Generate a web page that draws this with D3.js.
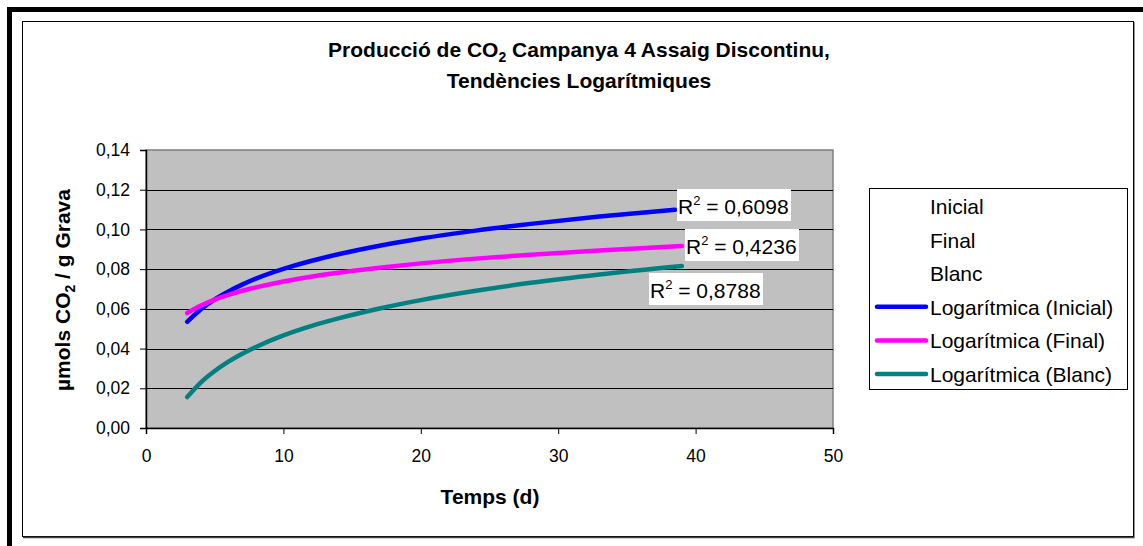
<!DOCTYPE html>
<html>
<head>
<meta charset="utf-8">
<script src="https://cdn.jsdelivr.net/npm/d3@7"></script>
<style>
  body { margin: 0; background: #fff; }
  svg { display: block; font-family: Arial, "Liberation Sans", sans-serif; }
</style>
</head>
<body>
<svg id="root" width="1143" height="546"></svg>
<script>
const svg = d3.select('#root')

// trend values
const daysInicial = [3, 4, 5, 6, 7, 8, 10, 12, 14, 17, 20, 24, 28, 33, 38.5]
const inicial = [0.0535, 0.0598, 0.0648, 0.0688, 0.0722, 0.0752, 0.0801, 0.0841, 0.0875, 0.0918, 0.0954, 0.0994, 0.1028, 0.1065, 0.1099]
const days = [3, 4, 5, 6, 7, 8, 10, 12, 14, 17, 20, 24, 28, 33, 39]
const final = [0.0579, 0.0617, 0.0647, 0.0670, 0.0691, 0.0708, 0.0738, 0.0762, 0.0782, 0.0807, 0.0829, 0.0853, 0.0873, 0.0894, 0.0916]
const blanc = [0.0156, 0.0230, 0.0287, 0.0334, 0.0374, 0.0408, 0.0466, 0.0513, 0.0552, 0.0602, 0.0644, 0.0691, 0.0731, 0.0773, 0.0816]
const r2Labels = ['R² = 0,6098', 'R² = 0,4236', 'R² = 0,8788']
const legendNames = ['Inicial', 'Final', 'Blanc', 'Logarítmica (Inicial)', 'Logarítmica (Final)', 'Logarítmica (Blanc)']
const colors = ['#0000ff', '#ff00ff', '#008080']
const yTicks = [0, 0.02, 0.04, 0.06, 0.08, 0.10, 0.12, 0.14]
const xTicks = [0, 10, 20, 30, 40, 50]

const trends = [
  { x: daysInicial, y: inicial, color: colors[0] },
  { x: days, y: final, color: colors[1] },
  { x: days, y: blanc, color: colors[2] }
]

// outer frame
svg.append('rect').attr('x', 7).attr('y', 7).attr('width', 1143).attr('height', 560)
  .attr('fill', 'none').attr('stroke', '#000').attr('stroke-width', 5)
  .attr('transform', 'translate(2.5,2.5)')
svg.append('rect').attr('x', 22.5).attr('y', 21.5).attr('width', 1111).attr('height', 515)
  .attr('fill', '#fff').attr('stroke', '#000').attr('stroke-width', 1)
svg.append('line').attr('x1', 23).attr('x2', 1135).attr('y1', 537.5).attr('y2', 537.5)
  .attr('stroke', '#444').attr('stroke-width', 1.5)
svg.append('line').attr('x1', 1134.5).attr('x2', 1134.5).attr('y1', 22).attr('y2', 538)
  .attr('stroke', '#999').attr('stroke-width', 1)

const margin = { left: 146, top: 150, right: 833, bottom: 428 }

const xScale = d3.scaleLinear().domain([0, 50]).range([margin.left, margin.right])
const yScale = d3.scaleLinear().domain([0, 0.14]).range([margin.bottom, margin.top])

// plot area
svg.append('rect')
  .attr('x', margin.left).attr('y', margin.top)
  .attr('width', margin.right - margin.left).attr('height', margin.bottom - margin.top)
  .attr('fill', '#c0c0c0').attr('stroke', '#808080').attr('stroke-width', 1.5)

// gridlines
svg.append('g')
  .selectAll('line')
  .data(yTicks.slice(1, -1))
  .enter()
  .append('line')
  .attr('x1', margin.left).attr('x2', margin.right)
  .attr('y1', d => Math.round(yScale(d)) + 0.5)
  .attr('y2', d => Math.round(yScale(d)) + 0.5)
  .attr('stroke', '#000').attr('stroke-width', 1)

// axes
const fmt = d => d3.format('.2f')(d).replace('.', ',')
const yAxis = d3.axisLeft(yScale).tickValues(yTicks).tickFormat(fmt).tickSize(6).tickPadding(10)
const xAxis = d3.axisBottom(xScale).tickValues(xTicks).tickFormat(d3.format('d')).tickSize(6).tickPadding(16)

const gy = svg.append('g').attr('transform', `translate(${margin.left},0)`).call(yAxis)
const gx = svg.append('g').attr('transform', `translate(0,${margin.bottom})`).call(xAxis)
;[gy, gx].forEach(g => {
  g.selectAll('path').attr('stroke', '#000').attr('stroke-width', 1.5)
  g.selectAll('line').attr('stroke', '#000')
  g.selectAll('text').attr('font-size', 17.5).attr('fill', '#000')
    .attr('font-family', 'Arial, "Liberation Sans", sans-serif')
})

// trend lines
const line = d3.line().curve(d3.curveMonotoneX)
svg.append('g')
  .selectAll('path')
  .data(trends)
  .enter()
  .append('path')
  .attr('d', t => line(t.x.map((x, i) => [xScale(x), yScale(t.y[i])])))
  .attr('fill', 'none')
  .attr('stroke', t => t.color)
  .attr('stroke-width', 4.5)
  .attr('stroke-linecap', 'round')

// R² labels
const labelPos = [[677, 189], [685, 229], [649, 273]]
const labels = svg.append('g')
  .selectAll('g')
  .data(r2Labels)
  .enter()
  .append('g')
  .attr('transform', (d, i) => `translate(${labelPos[i][0]},${labelPos[i][1]})`)
labels.append('rect').attr('width', 114).attr('height', 32).attr('fill', '#fff')
labels.append('text')
  .attr('x', 1).attr('y', 25)
  .attr('font-size', 21)
  .html(d => 'R<tspan dy="-9" font-size="13">2</tspan><tspan dy="9"> = ' + d.split('= ')[1] + '</tspan>')

// title
const title = svg.append('text').attr('text-anchor', 'middle').attr('font-weight', 'bold').attr('font-size', 21)
title.append('tspan').attr('x', 579).attr('y', 57)
  .html('Producció de CO<tspan dy="5" font-size="14">2</tspan><tspan dy="-5"> Campanya 4 Assaig Discontinu,</tspan>')
title.append('tspan').attr('x', 579).attr('y', 88).text('Tendències Logarítmiques')

// axis titles
svg.append('text').attr('x', 490).attr('y', 504).attr('text-anchor', 'middle')
  .attr('font-weight', 'bold').attr('font-size', 21).text('Temps (d)')
svg.append('text')
  .attr('transform', 'translate(70,290) rotate(-90)')
  .attr('text-anchor', 'middle').attr('font-weight', 'bold').attr('font-size', 21)
  .html('µmols CO<tspan dy="5" font-size="14">2</tspan><tspan dy="-5"> / g Grava</tspan>')

// legend
const legend = svg.append('g').attr('transform', 'translate(869,188)')
legend.append('rect').attr('x', 0.5).attr('y', 0.5).attr('width', 258).attr('height', 201)
  .attr('fill', '#fff').attr('stroke', '#000').attr('stroke-width', 1)
const items = legend.selectAll('g.item')
  .data(legendNames)
  .enter()
  .append('g')
  .attr('class', 'item')
  .attr('transform', (d, i) => `translate(0,${18 + i * 33.6})`)
items.filter((d, i) => i >= 3)
  .append('line')
  .attr('x1', 8).attr('x2', 57).attr('y1', 0).attr('y2', 0)
  .attr('stroke', (d, i) => colors[i]).attr('stroke-width', 4.5).attr('stroke-linecap', 'round')
items.append('text').attr('x', 61).attr('y', 8).attr('font-size', 21).text(d => d)
</script>
</body>
</html>
